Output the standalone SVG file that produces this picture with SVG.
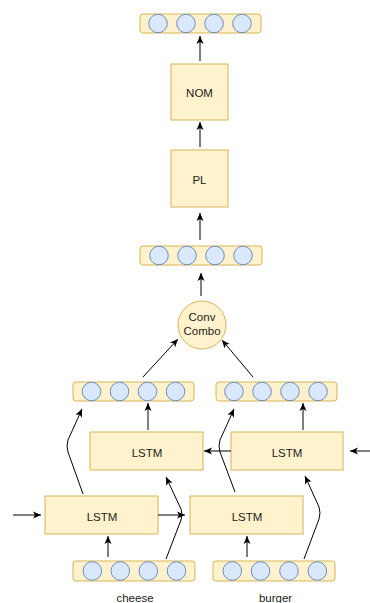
<svg xmlns="http://www.w3.org/2000/svg" width="370" height="603" viewBox="0 0 370 603">
<defs>
<style>
.box{fill:#fff2cc;stroke:#d6b656;stroke-width:1}
.vec{fill:#fff2cc;stroke:#d6b656;stroke-width:1}
.cell{fill:#dae8fc;stroke:#6c8ebf;stroke-width:1}
.lbl{font-family:"Liberation Sans",Arial,sans-serif;font-size:11.5px;fill:#222;text-anchor:middle}
.edge{fill:none;stroke:#000;stroke-width:1;marker-end:url(#arr)}
</style>
<marker id="arr" markerUnits="userSpaceOnUse" markerWidth="10" markerHeight="10" refX="8" refY="4" orient="auto" viewBox="0 0 10 8">
<path d="M0,0.5 L8,4 L0,7.5 L2,4 z" fill="#000"/>
</marker>
</defs>
<rect width="370" height="603" fill="#fff"/>

<g id="vec-top">
<rect class="vec" x="140" y="14" width="121" height="19" rx="3"/>
<circle class="cell" cx="158" cy="23.5" r="9.3"/>
<circle class="cell" cx="186" cy="23.5" r="9.3"/>
<circle class="cell" cx="214" cy="23.5" r="9.3"/>
<circle class="cell" cx="242" cy="23.5" r="9.3"/>
</g>
<g id="nom">
<rect class="box" x="171" y="64" width="57" height="56"/>
<text class="lbl" x="199.5" y="97">NOM</text>
</g>
<g id="pl">
<rect class="box" x="171" y="150" width="57" height="57"/>
<text class="lbl" x="199.5" y="183.5">PL</text>
</g>
<g id="vec-mid">
<rect class="vec" x="140" y="246" width="122" height="19" rx="3"/>
<circle class="cell" cx="159" cy="255.5" r="9.3"/>
<circle class="cell" cx="187" cy="255.5" r="9.3"/>
<circle class="cell" cx="215" cy="255.5" r="9.3"/>
<circle class="cell" cx="243" cy="255.5" r="9.3"/>
</g>
<g id="conv-combo">
<circle class="box" cx="202" cy="325" r="24"/>
<text class="lbl" x="202" y="320.5">Conv</text>
<text class="lbl" x="202" y="334.5">Combo</text>
</g>
<g id="vec-ul">
<rect class="vec" x="73" y="382" width="121" height="19" rx="3"/>
<circle class="cell" cx="91.5" cy="391.5" r="9.3"/>
<circle class="cell" cx="119.5" cy="391.5" r="9.3"/>
<circle class="cell" cx="147.5" cy="391.5" r="9.3"/>
<circle class="cell" cx="175.5" cy="391.5" r="9.3"/>
</g>
<g id="vec-ur">
<rect class="vec" x="216" y="382" width="121" height="19" rx="3"/>
<circle class="cell" cx="234" cy="391.5" r="9.3"/>
<circle class="cell" cx="262" cy="391.5" r="9.3"/>
<circle class="cell" cx="290" cy="391.5" r="9.3"/>
<circle class="cell" cx="318" cy="391.5" r="9.3"/>
</g>
<g id="lstm-ul">
<rect class="box" x="90" y="432" width="113" height="38"/>
<text class="lbl" x="147" y="456.5">LSTM</text>
</g>
<g id="lstm-ur">
<rect class="box" x="231" y="432" width="112" height="38"/>
<text class="lbl" x="287" y="456.5">LSTM</text>
</g>
<g id="lstm-ll">
<rect class="box" x="45" y="496" width="113" height="38"/>
<text class="lbl" x="102" y="520.5">LSTM</text>
</g>
<g id="lstm-lr">
<rect class="box" x="190" y="496" width="113" height="38"/>
<text class="lbl" x="247" y="520.5">LSTM</text>
</g>
<g id="vec-bl">
<rect class="vec" x="73" y="561" width="122" height="20" rx="3"/>
<circle class="cell" cx="92.3" cy="571" r="9.3"/>
<circle class="cell" cx="120.3" cy="571" r="9.3"/>
<circle class="cell" cx="148.3" cy="571" r="9.3"/>
<circle class="cell" cx="176.5" cy="571" r="9.3"/>
</g>
<g id="vec-br">
<rect class="vec" x="213" y="561" width="122" height="20" rx="3"/>
<circle class="cell" cx="232.3" cy="571" r="9.3"/>
<circle class="cell" cx="260.5" cy="571" r="9.3"/>
<circle class="cell" cx="289" cy="571" r="9.3"/>
<circle class="cell" cx="317.3" cy="571" r="9.3"/>
</g>
<g id="label-cheese"><text class="lbl" x="135" y="602">cheese</text></g>
<g id="label-burger"><text class="lbl" x="275.5" y="602">burger</text></g>

<g id="connectors">
<path class="edge" d="M200,61 L200,36"/>
<path class="edge" d="M200,147 L200,122"/>
<path class="edge" d="M200,240 L200,213"/>
<path class="edge" d="M201,296 L201,273"/>
<path class="edge" d="M143,377 L178,339"/>
<path class="edge" d="M253,377 L222,340"/>
<path class="edge" d="M148,430 L148,403"/>
<path class="edge" d="M303,430 L303,403"/>
<path class="edge" d="M231,451 L204,451"/>
<path class="edge" d="M370,451 L350,451"/>
<path class="edge" d="M13,515 L41,515"/>
<path class="edge" d="M158,515 L185,515"/>
<path class="edge" d="M108,557 L108,536"/>
<path class="edge" d="M247,557 L247,536"/>
<path class="edge" d="M83,494 L68,452 Q66,446 68,440 L82,409"/>
<path class="edge" d="M166,559 L181,520 Q183,514 181,509 L166,477"/>
<path class="edge" d="M235,492 L220,452 Q218,446 220,440 L234,409"/>
<path class="edge" d="M304,559 L319,519 Q321,513 319,507 L305,476"/>
</g>
</svg>
